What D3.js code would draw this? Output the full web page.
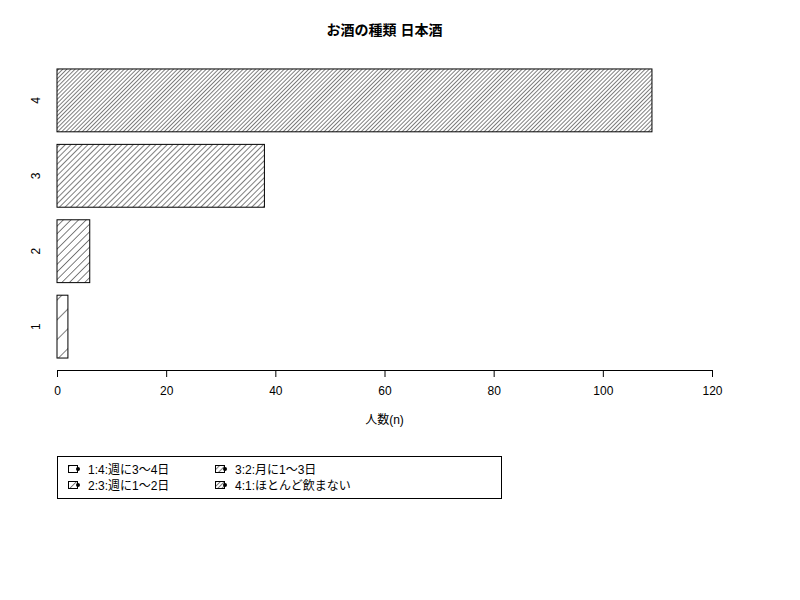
<!DOCTYPE html>
<html>
<head>
<meta charset="utf-8">
<script src="https://cdn.jsdelivr.net/npm/d3@7/dist/d3.min.js"></script>
<style>
  body { margin: 0; background: #fff; }
  text { font-family: "Liberation Sans", "Noto Sans CJK JP", sans-serif; fill: #000; }
</style>
</head>
<body>
<svg id="chart" width="800" height="600"></svg>
<script>
(function(){
	'use strict';

	// data
	var categories = ['1', '2', '3', '4'];
	var counts = [2, 6, 38, 109];
	var xTicks = [0, 20, 40, 60, 80, 100, 120];
	var legendLabels = ['1:4:週に3〜4日', '2:3:週に1〜2日', '3:2:月に1〜3日', '4:1:ほとんど飲まない'];
	var title = 'お酒の種類 日本酒';
	var xLabel = '人数(n)';

	// hatch spacing (px, perpendicular) per bar
	var hatchGap = [14, 5.4, 4, 2.9];

	var svg = d3.select('#chart');

	var x = d3.scaleLinear().domain([0, 120]).range([57, 712]);
	// bar slots like R barplot: width 1, space 0.2, 4% expanded range
	var y = d3.scaleLinear().domain([0.016, 4.984]).range([369.6, 57.4]);
	function barTop(i){ return y(1.2 + 1.2 * i); }
	function barBottom(i){ return y(0.2 + 1.2 * i); }

	var defs = svg.append('defs');
	hatchGap.forEach(function(g, i){
		var p = defs.append('pattern')
			.attr('id', 'hatch' + i)
			.attr('patternUnits', 'userSpaceOnUse')
			.attr('width', g).attr('height', g)
			.attr('patternTransform', 'rotate(45)');
		p.append('line')
			.attr('x1', 0).attr('y1', 0).attr('x2', 0).attr('y2', g)
			.attr('stroke', '#000').attr('stroke-width', 1);
	});

	// bars
	var bars = svg.append('g');
	categories.forEach(function(c, i){
		bars.append('rect')
			.attr('x', x(0)).attr('y', barTop(i))
			.attr('width', x(counts[i]) - x(0)).attr('height', barBottom(i) - barTop(i))
			.attr('fill', 'url(#hatch' + i + ')')
			.attr('stroke', '#000').attr('stroke-width', 1);
	});

	// y labels (rotated, no axis line)
	categories.forEach(function(c, i){
		var cy = (barTop(i) + barBottom(i)) / 2;
		svg.append('text')
			.attr('transform', 'translate(40,' + cy + ') rotate(-90)')
			.attr('text-anchor', 'middle')
			.attr('font-size', 12)
			.text(c);
	});

	// x axis
	var xAxis = svg.append('g')
		.attr('transform', 'translate(0,370)')
		.call(d3.axisBottom(x).tickValues(xTicks).tickSize(7).tickPadding(9).tickSizeOuter(0));
	xAxis.select('.domain').attr('stroke', '#000');
	xAxis.selectAll('.tick line').attr('stroke', '#000');
	xAxis.selectAll('.tick text')
		.attr('font-size', 12)
		.attr('font-family', '"Liberation Sans", sans-serif');

	svg.append('text')
		.attr('x', 384.5).attr('y', 424)
		.attr('text-anchor', 'middle')
		.attr('font-size', 12)
		.text(xLabel);

	svg.append('text')
		.attr('x', 384.5).attr('y', 35)
		.attr('text-anchor', 'middle')
		.attr('font-size', 14)
		.attr('font-weight', 'bold')
		.text(title);

	// legend
	var legend = svg.append('g');
	legend.append('rect')
		.attr('x', 57.5).attr('y', 456.5).attr('width', 444).attr('height', 42)
		.attr('fill', 'none').attr('stroke', '#000');

	legendLabels.forEach(function(lab, i){
		var col = Math.floor(i / 2), row = i % 2;
		var lx = 68 + col * 147, ly = 465 + row * 16;
		legend.append('rect')
			.attr('x', lx + 0.5).attr('y', ly + 0.5).attr('width', 9).attr('height', 7)
			.attr('fill', 'url(#hatch' + i + ')')
			.attr('stroke', '#000').attr('stroke-width', 1);
		legend.append('circle')
			.attr('cx', lx + 10).attr('cy', ly + 4).attr('r', 2)
			.attr('fill', '#000');
		legend.append('text')
			.attr('x', lx + 20).attr('y', ly + 8.5)
			.attr('font-size', 12)
			.text(lab);
	});
})();
</script>
</body>
</html>
